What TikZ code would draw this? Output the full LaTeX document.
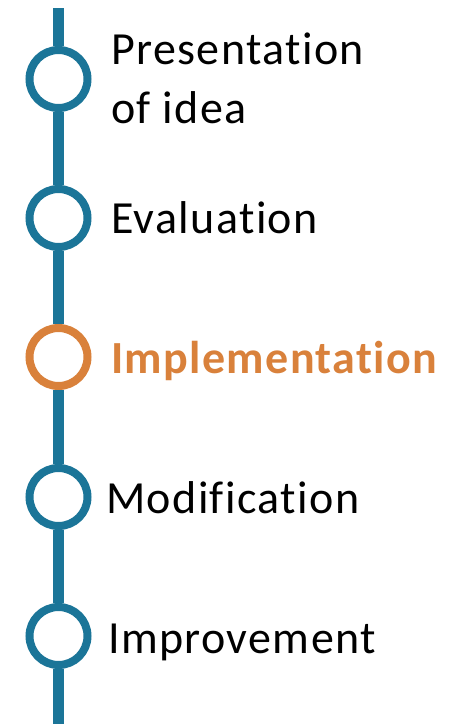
\documentclass[tikz,border=0pt]{standalone}
\usepackage{fontspec}
\setmainfont[Ligatures=NoCommon,LetterSpace=3]{Carlito}
\usepackage{tikz}
\usetikzlibrary{calc,positioning}

\definecolor{railblue}{HTML}{1B7598}
\definecolor{steporange}{HTML}{D9813B}

\begin{document}
\begin{tikzpicture}[x=1pt,y=-1pt,
  rail/.style={draw=railblue,line width=11pt},
  stop/.style={circle,draw=railblue,fill=white,line width=8pt,minimum size=58pt,inner sep=0pt},
  current/.style={stop,draw=steporange},
  steplabel/.style={anchor=base west,inner sep=0pt,align=left,
    font=\fontsize{46}{59}\selectfont},
  currentlabel/.style={steplabel,text=steporange,font=\fontsize{46}{59}\selectfont\bfseries}]
  \useasboundingbox (0,0) rectangle (461,724);

  \coordinate (top) at (58.5,8);
  \coordinate (bottom) at (58.5,724);

  \node[stop] (idea) at (58.5,79) {};
  \node[stop] (eval) at (58.5,218) {};
  \node[current] (impl) at (58.5,357) {};
  \node[stop] (mod) at (58.5,497) {};
  \node[stop] (impr) at (58.5,636) {};

  % the rail runs between the stops
  \draw[rail] (top) -- (idea.north);
  \draw[rail] (idea.south) -- (eval.north);
  \draw[rail] (eval.south) -- (impl.north);
  \draw[rail] (impl.south) -- (mod.north);
  \draw[rail] (mod.south) -- (impr.north);
  \draw[rail] (impr.south) -- (bottom);

  \node[steplabel] (ideatext) at (111,123) {Presentation\\of idea};
  \node[steplabel] (evaltext) at (111,233) {Evaluation};
  \node[currentlabel] (impltext) at (111,373) {Implementation};
  \node[steplabel] (modtext) at (106,513) {Modification};
  \node[steplabel] (imprtext) at (108,653) {Improvement};

\end{tikzpicture}
\end{document}
